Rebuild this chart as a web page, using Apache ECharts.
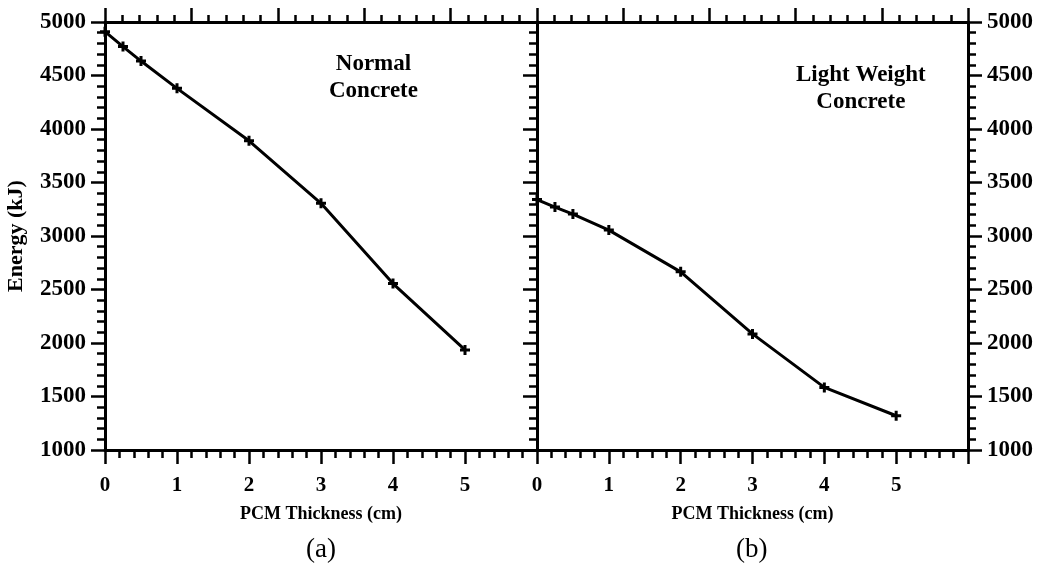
<!DOCTYPE html>
<html>
<head>
<meta charset="utf-8">
<script src="https://cdn.jsdelivr.net/npm/echarts@6/dist/echarts.min.js"></script>
<style>
  html, body { margin: 0; padding: 0; background: #fff; }
  #chart { width: 1041px; height: 580px; }
</style>
</head>
<body>
<div id="chart"></div>
<script>
// PCM thickness (cm)
var thickness = [0, 0.25, 0.5, 1, 2, 3, 4, 5]
// energy (kJ)
var normalConcrete = [4910, 4770, 4635, 4380, 3890, 3305, 2555, 1935]
var lightConcrete = [3340, 3270, 3205, 3055, 2665, 2085, 1585, 1320]

var serif = '"Liberation Serif", "DejaVu Serif", serif'
var plus = 'path://M3.5,0H6.5V3.5H10V6.5H6.5V10H3.5V6.5H0V3.5H3.5Z'

function pairs (xs, ys) {
  return xs.map(function (x, i) { return [x, ys[i]] })
}

// bottom x axis, ticks outward, labels 0..5
function bottomAxis (gridIndex) {
  return {
    type: 'value',
    gridIndex: gridIndex,
    position: 'bottom',
    min: 0,
    max: 6,
    interval: 1,
    name: 'PCM Thickness (cm)',
    nameLocation: 'middle',
    nameGap: 55,
    nameTextStyle: { fontFamily: serif, fontWeight: 'bold', fontSize: 18, color: '#000' },
    axisLine: { onZero: false, lineStyle: { color: '#000', width: 3 } },
    axisTick: { inside: false, length: 14, lineStyle: { color: '#000', width: 2.5 } },
    minorTick: { show: true, splitNumber: 5, length: 8, lineStyle: { color: '#000', width: 2.5 } },
    axisLabel: {
      margin: 25,
      fontFamily: serif,
      fontWeight: 'bold',
      fontSize: 21,
      color: '#000',
      formatter: function (v) { return v === 6 ? '' : String(v) }
    },
    splitLine: { show: false }
  }
}

// top x axis, 0..5 stretched over the panel, no labels
function topAxis (gridIndex) {
  return {
    type: 'value',
    gridIndex: gridIndex,
    position: 'top',
    min: 0,
    max: 5,
    interval: 1,
    axisLine: { onZero: false, lineStyle: { color: '#000', width: 3 } },
    axisTick: { inside: false, length: 14, lineStyle: { color: '#000', width: 2.5 } },
    minorTick: { show: true, splitNumber: 5, length: 7, lineStyle: { color: '#000', width: 2.5 } },
    axisLabel: { show: false },
    splitLine: { show: false }
  }
}

function energyAxis (gridIndex, position, showLabel, showTicks) {
  return {
    type: 'value',
    gridIndex: gridIndex,
    position: position,
    min: 1000,
    max: 5000,
    interval: 500,
    axisLine: { show: true, onZero: false, lineStyle: { color: '#000', width: 3 } },
    axisTick: { show: showTicks, inside: false, length: 14, lineStyle: { color: '#000', width: 2.5 } },
    minorTick: { show: showTicks, splitNumber: 5, length: 8, lineStyle: { color: '#000', width: 2.5 } },
    axisLabel: {
      show: showLabel,
      margin: 19,
      fontFamily: serif,
      fontWeight: 'bold',
      fontSize: 23,
      color: '#000',
      formatter: function (v) { return String(v) }
    },
    splitLine: { show: false }
  }
}

var leftEnergy = energyAxis(0, 'left', true, true)
leftEnergy.name = 'Energy (kJ)'
leftEnergy.nameLocation = 'middle'
leftEnergy.nameGap = 78
leftEnergy.nameTextStyle = { fontFamily: serif, fontWeight: 'bold', fontSize: 22, color: '#000' }

function lineSeries (xi, yi, ys) {
  return {
    type: 'line',
    xAxisIndex: xi,
    yAxisIndex: yi,
    data: pairs(thickness, ys),
    symbol: plus,
    symbolSize: 10,
    showSymbol: true,
    itemStyle: { color: '#000' },
    lineStyle: { color: '#000', width: 3 },
    animation: false,
    z: 1
  }
}

var myChart = echarts.init(document.getElementById('chart'))
var option = {
  animation: false,
  backgroundColor: '#fff',
  grid: [
    { left: 105, width: 432, top: 22, bottom: 130, containLabel: false },
    { left: 537, width: 431, top: 22, bottom: 130, containLabel: false }
  ],
  xAxis: [bottomAxis(0), topAxis(0), bottomAxis(1), topAxis(1)],
  yAxis: [
    leftEnergy,
    energyAxis(0, 'right', false, false),
    energyAxis(1, 'left', false, true),
    energyAxis(1, 'right', true, true)
  ],
  series: [
    lineSeries(0, 0, normalConcrete),
    lineSeries(2, 3, lightConcrete)
  ],
  graphic: [
    {
      type: 'text', left: 329, top: 51,
      style: { text: 'Normal\nConcrete', textAlign: 'center', font: 'bold 23px ' + serif, fill: '#000', lineHeight: 27 }
    },
    {
      type: 'text', left: 796, top: 62,
      style: { text: 'Light Weight\nConcrete', textAlign: 'center', font: 'bold 23px ' + serif, fill: '#000', lineHeight: 27 }
    },
    {
      type: 'text', left: 306, top: 536,
      style: { text: '(a)', font: '27px ' + serif, fill: '#000' }
    },
    {
      type: 'text', left: 736, top: 536,
      style: { text: '(b)', font: '27px ' + serif, fill: '#000' }
    }
  ]
}
myChart.setOption(option)
</script>
</body>
</html>
